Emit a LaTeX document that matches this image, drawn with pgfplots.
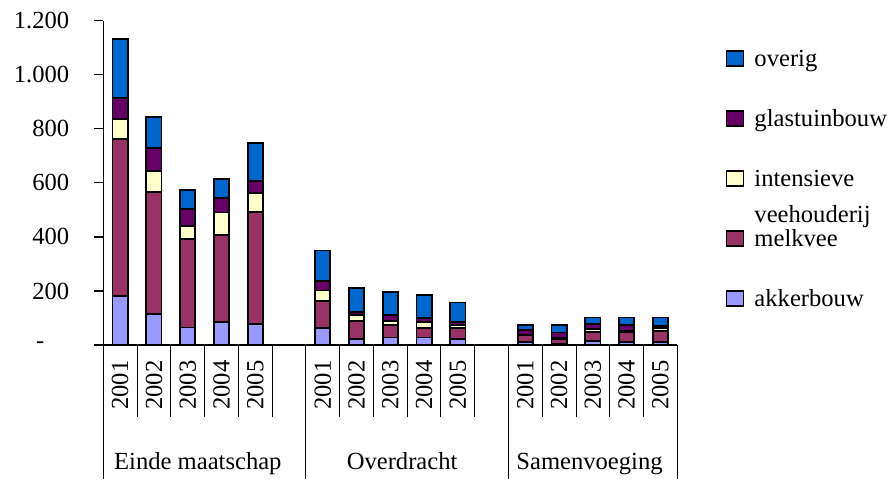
\documentclass[border=0pt]{standalone}
\usepackage{pgfplots}
\pgfplotsset{compat=1.18}
\usepackage{fontspec}
\setmainfont{Liberation Serif}
\definecolor{cOverig}{HTML}{0066CC}
\definecolor{cGlas}{HTML}{660066}
\definecolor{cInt}{HTML}{FFFFCC}
\definecolor{cMelk}{HTML}{993366}
\definecolor{cAkker}{HTML}{9999FF}
\begin{document}
\begin{tikzpicture}[font=\rmfamily\fontsize{12.3}{14.8}\selectfont]
\path[use as bounding box] (-51.65pt,-67pt) rectangle (393.85pt,172.5pt);
\begin{axis}[
  at={(0pt,0pt)}, anchor=south west,
  scale only axis, width=287pt, height=162.15pt,
  xmin=0, xmax=17, ymin=0, ymax=1200,
  clip=false,
  axis x line*=bottom, axis y line*=left,
  axis line style={-, line width=0.6pt, black},
  ybar stacked, bar width=0.45,
  /pgf/number format/assume math mode=true,
  ytick={0,200,400,600,800,1000,1200},
  yticklabels={{-\rule{12.5pt}{0pt}},200,400,600,800,1.000,1.200},
  yticklabel style={xshift=-9pt},
  tick align=outside, major tick length=4.5pt,
  ytick style={black, line width=0.6pt},
  xtick={0.5,1.5,2.5,3.5,4.5,6.5,7.5,8.5,9.5,10.5,12.5,13.5,14.5,15.5,16.5},
  xticklabels={2001,2002,2003,2004,2005,2001,2002,2003,2004,2005,2001,2002,2003,2004,2005},
  xtick style={draw=none},
  xticklabel style={rotate=90, anchor=east, inner sep=3pt},
  every tick label/.append style={font=\rmfamily\fontsize{12.3}{14.8}\selectfont},
  every axis plot/.append style={draw=black, line width=0.9pt},
  reverse legend,
  legend cell align=left,
  legend image code/.code={\draw[#1, line width=0.7pt] (0pt,0pt) rectangle (8.5pt,7.5pt);},
  legend style={at={(1.0843,0.9167)}, anchor=north west, draw=none, fill=none,
    inner sep=0pt, row sep=18pt, column sep=5pt,
    font=\rmfamily\fontsize{12.3}{14.8}\selectfont,
    nodes={inner sep=0pt, text height=9pt, text depth=3pt, anchor=base west}},
]
\addplot[fill=cAkker] coordinates {
 (0.5,182) (1.5,115) (2.5,65) (3.5,85) (4.5,79)
 (6.5,62) (7.5,21) (8.5,28) (9.5,28) (10.5,21)
 (12.5,12) (13.5,4) (14.5,15) (15.5,10) (16.5,10)};
\addplot[fill=cMelk] coordinates {
 (0.5,580) (1.5,452) (2.5,327) (3.5,322) (4.5,412)
 (6.5,100) (7.5,69) (8.5,46) (9.5,34) (10.5,41)
 (12.5,25) (13.5,18) (14.5,34) (15.5,36) (16.5,42)};
\addplot[fill=cInt] coordinates {
 (0.5,74) (1.5,77) (2.5,48) (3.5,83) (4.5,70)
 (6.5,40) (7.5,21) (8.5,16) (9.5,22) (10.5,12)
 (12.5,2) (13.5,4) (14.5,9) (15.5,7) (16.5,10)};
\addplot[fill=cGlas] coordinates {
 (0.5,77) (1.5,84) (2.5,63) (3.5,55) (4.5,47)
 (6.5,35) (7.5,12) (8.5,21) (9.5,15) (10.5,12)
 (12.5,16) (13.5,20) (14.5,20) (15.5,21) (16.5,9)};
\addplot[fill=cOverig] coordinates {
 (0.5,218) (1.5,117) (2.5,72) (3.5,70) (4.5,139)
 (6.5,113) (7.5,89) (8.5,86) (9.5,86) (10.5,71)
 (12.5,19) (13.5,28) (14.5,24) (15.5,28) (16.5,31)};
\legend{akkerbouw, melkvee, {\smash{\begin{tabular}[t]{@{}l@{}}intensieve\\[3.6pt]veehouderij\end{tabular}}}, glastuinbouw, overig}
\pgfplotsinvokeforeach{1,2,3,4,5,7,8,9,10,11,13,14,15,16}{
  \draw[black, line width=0.5pt] (axis cs:#1,0) -- ++(0pt,-36pt);}
\pgfplotsinvokeforeach{0,6,12,17}{
  \draw[black, line width=0.5pt] (axis cs:#1,0) -- ++(0pt,-67pt);}
\node[anchor=base, yshift=-62pt] at (axis cs:2.8,0) {Einde maatschap};
\node[anchor=base, yshift=-62pt] at (axis cs:8.85,0) {Overdracht};
\node[anchor=base, yshift=-62pt] at (axis cs:14.4,0) {Samenvoeging};
\end{axis}
\end{tikzpicture}
\end{document}
